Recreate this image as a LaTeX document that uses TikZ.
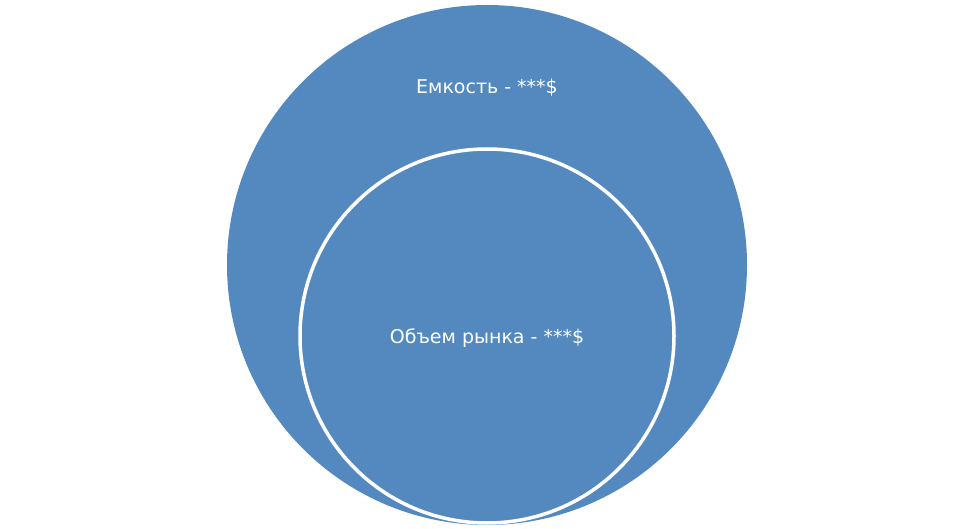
\documentclass[tikz,border=0pt]{standalone}
\usepackage{fontspec}
\setmainfont{DejaVu Sans}
\definecolor{ciblue}{RGB}{84,137,192}
\begin{document}
\begin{tikzpicture}[x=1pt,y=-1pt,
  disc/.style={circle,fill=ciblue,inner sep=0pt},
  lbl/.style={text=white,font=\fontsize{19}{22}\selectfont}]
\useasboundingbox (0,0) rectangle (974,529);
\node[disc,minimum size=520pt] (outer) at (487,265) {};
\node[disc,draw=white,line width=3.5pt,minimum size=374pt] (inner) at (487,336) {};
\node[lbl] (t1) at (487,88) {Емкость - ***\$};
\node[lbl] (t2) at (487,338) {Объем рынка - ***\$};
\end{tikzpicture}
\end{document}
